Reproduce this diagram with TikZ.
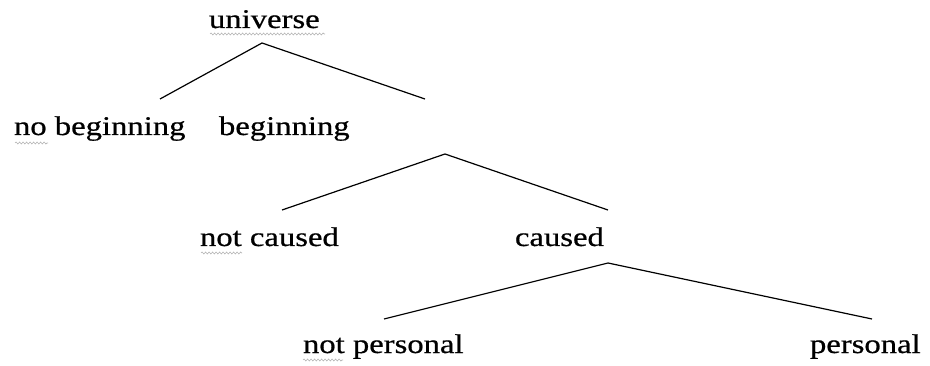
\documentclass[tikz,border=0pt]{standalone}
\usepackage{fontspec}
\setmainfont{Liberation Serif}[FakeBold=0.6]
\usetikzlibrary{decorations.pathmorphing}
\tikzset{
  lbl/.style={anchor=base west, inner sep=0pt, outer sep=0pt, font=\fontsize{27}{30}\selectfont},
  branch/.style={line width=1.2pt, black},
  spell/.style={draw=gray!60, line width=0.6pt, decorate, decoration={snake, amplitude=1pt, segment length=3.5pt}}
}
\newcommand{\wtext}[1]{\scalebox{1.21}[1]{#1}}
\begin{document}
\begin{tikzpicture}[x=1pt, y=-1pt]
\useasboundingbox (0,0) rectangle (930,366);
% labels
\node[lbl] (universe) at (209,28) {\wtext{universe}};
\node[lbl] (nobeg) at (14,135) {\wtext{no beginning}};
\node[lbl] (beg) at (219,135) {\wtext{beginning}};
\node[lbl] (notcaused) at (200,246) {\wtext{not caused}};
\node[lbl] (caused) at (515,246) {\wtext{caused}};
\node[lbl] (notpers) at (303,353) {\wtext{not personal}};
\node[lbl] (pers) at (810,353) {\wtext{personal}};
% branch points
\coordinate (a1) at (262,43);
\coordinate (l1) at (160,99);
\coordinate (r1) at (425,99);
\coordinate (a2) at (445,154);
\coordinate (l2) at (282,210);
\coordinate (r2) at (608,210);
\coordinate (a3) at (608,263);
\coordinate (l3) at (384,319);
\coordinate (r3) at (872,319);
\draw[branch] (l1) -- (a1) -- (r1);
\draw[branch] (l2) -- (a2) -- (r2);
\draw[branch] (l3) -- (a3) -- (r3);
% spell-check underlines
\coordinate (u1a) at (210,34); \coordinate (u1b) at (325,34);
\coordinate (u2a) at (15,143); \coordinate (u2b) at (48,143);
\coordinate (u3a) at (201,253); \coordinate (u3b) at (242,253);
\coordinate (u4a) at (303,360); \coordinate (u4b) at (343,360);
\draw[spell] (u1a) -- (u1b);
\draw[spell] (u2a) -- (u2b);
\draw[spell] (u3a) -- (u3b);
\draw[spell] (u4a) -- (u4b);
\end{tikzpicture}
\end{document}
